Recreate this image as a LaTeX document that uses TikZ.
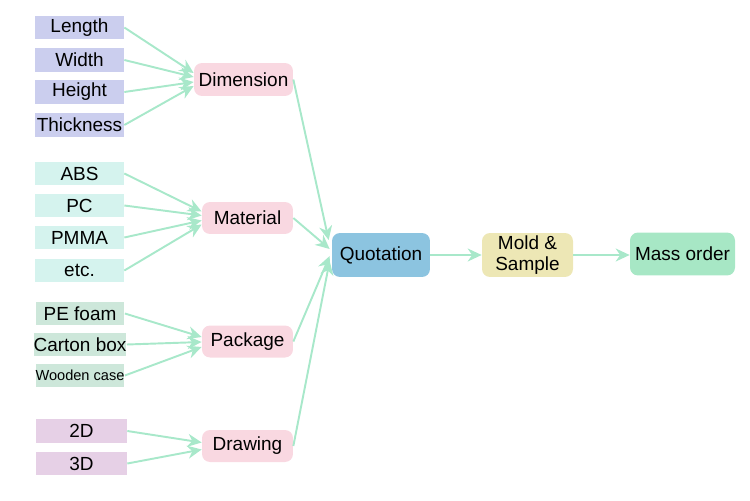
\documentclass[tikz,border=0pt]{standalone}
\usepackage{tikz}
\usetikzlibrary{arrows.meta,positioning,calc}
\usepackage{xcolor}
\usepackage{fontspec}
\setmainfont{Liberation Sans}
\definecolor{dimfill}{HTML}{CBCEEE}
\definecolor{matfill}{HTML}{D5F3EE}
\definecolor{pkgfill}{HTML}{CDE7DA}
\definecolor{drwfill}{HTML}{E6D0E6}
\definecolor{pinkfill}{HTML}{F9D8E1}
\definecolor{quotfill}{HTML}{8CC4E0}
\definecolor{moldfill}{HTML}{EDE7B5}
\definecolor{massfill}{HTML}{A7E7C5}
\definecolor{flow}{HTML}{A8E8CA}
\tikzset{
  leaf/.style={draw=none, align=center, minimum width=1.78cm, minimum height=0.47cm, inner sep=0pt, font=\fontsize{10.8}{12}\selectfont},
  dimleaf/.style={leaf, fill=dimfill},
  matleaf/.style={leaf, fill=matfill},
  pkgleaf/.style={leaf, fill=pkgfill},
  drwleaf/.style={leaf, fill=drwfill},
  group/.style={draw=none, rounded corners=1.6mm, align=center, fill=pinkfill, minimum width=1.82cm, minimum height=0.64cm, inner sep=1pt, font=\fontsize{10.8}{12}\selectfont},
  stage/.style={group, minimum width=1.82cm, minimum height=0.88cm, font=\fontsize{10.8}{11.5}\selectfont},
  arrow/.style={-{Stealth[length=2.8mm, width=2.6mm, inset=0.9mm]}, line width=1.1pt, draw=flow}
}

\begin{document}
\begin{tikzpicture}[x=0.02cm, y=-0.02cm]
  \useasboundingbox (0,0) rectangle (750,500);
  % inputs
  \node[dimleaf] (len) at (79.5,27.5) {Length};
  \node[dimleaf] (wid) at (79.5,60) {Width};
  \node[dimleaf] (hei) at (79.5,92) {Height};
  \node[dimleaf] (thi) at (79.5,125) {Thickness};
  \node[matleaf] (abs) at (79.5,173.5) {ABS};
  \node[matleaf] (pc) at (79.5,205.5) {PC};
  \node[matleaf] (pmma) at (79.5,237.5) {PMMA};
  \node[matleaf] (etc) at (79.5,270.5) {etc.};
  \node[pkgleaf] (foam) at (80,313.5) {PE foam};
  \node[pkgleaf] (carton) at (80,344.5) {Carton box};
  \node[pkgleaf, font=\fontsize{8.3}{9}\selectfont] (wood) at (80,375.5) {Wooden case};
  \node[drwleaf, minimum width=1.82cm] (twod) at (81.5,431) {2D};
  \node[drwleaf, minimum width=1.82cm] (threed) at (81.5,463.5) {3D};
  % groups
  \node[group, minimum width=1.98cm, minimum height=0.66cm] (dim) at (243.5,79.5) {Dimension};
  \node[group] (mat) at (247.5,218) {Material};
  \node[group] (pkg) at (247.5,341.5) {Package};
  \node[group] (drw) at (247.5,446) {Drawing};
  % process
  \node[stage, fill=quotfill, minimum width=1.96cm] (quot) at (381,255) {Quotation};
  \node[stage, fill=moldfill] (mold) at (527.5,255) {Mold \&\\Sample};
  \node[stage, fill=massfill, minimum width=2.1cm, minimum height=0.86cm] (mass) at (682.5,254) {Mass order};
  \draw[arrow] (len.east) -- ([yshift=0.13cm]dim.west);
  \draw[arrow] (wid.east) -- ([yshift=0.05cm]dim.west);
  \draw[arrow] (hei.east) -- ([yshift=-0.05cm]dim.west);
  \draw[arrow] (thi.east) -- ([yshift=-0.13cm]dim.west);
  \draw[arrow] (abs.east) -- ([yshift=0.13cm]mat.west);
  \draw[arrow] (pc.east) -- ([yshift=0.05cm]mat.west);
  \draw[arrow] (pmma.east) -- ([yshift=-0.05cm]mat.west);
  \draw[arrow] (etc.east) -- ([yshift=-0.13cm]mat.west);
  \draw[arrow] (foam.east) -- ([yshift=0.09cm]pkg.west);
  \draw[arrow] (carton.east) -- ([yshift=-0.01cm]pkg.west);
  \draw[arrow] (wood.east) -- ([yshift=-0.11cm]pkg.west);
  \draw[arrow] (twod.east) -- ([yshift=0.07cm]drw.west);
  \draw[arrow] (threed.east) -- ([yshift=-0.07cm]drw.west);
  \draw[arrow] (dim.east) -- ([xshift=-0.06cm, yshift=0.3cm]quot.west);
  \draw[arrow] (mat.east) -- ([xshift=-0.04cm, yshift=0.12cm]quot.west);
  \draw[arrow] (pkg.east) -- ([xshift=-0.04cm, yshift=-0.02cm]quot.west);
  \draw[arrow] (drw.east) -- ([xshift=-0.04cm, yshift=-0.12cm]quot.west);
  \draw[arrow] (quot) -- (mold);
  \draw[arrow] (mold.east) -- (mold.east -| mass.west);
\end{tikzpicture}
\end{document}
